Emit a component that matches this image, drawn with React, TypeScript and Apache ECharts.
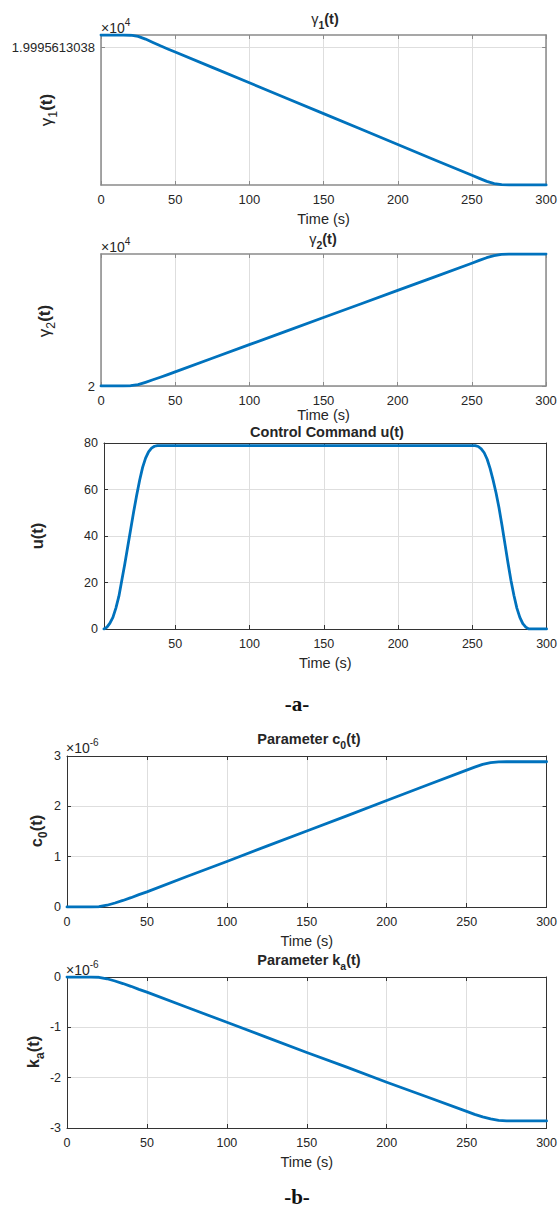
import React, { useEffect, useRef } from "react";
import * as echarts from "echarts";

// Shared time base (s) for the slow states and parameters
const time = [0, 5, 10, 15, 20, 25, 30, 35, 40, 45, 50, 75, 100, 125, 150, 175, 200, 225, 250, 255, 260, 265, 270, 275, 280, 300];

// gamma_1: offset from 1.9995613038 (x10^4), relative units
const gamma1Offset = [1, 1, 1, 1, 0.98, 0.88, 0.66, 0.38, 0.1, -0.16, -0.42, -1.7, -2.98, -4.27, -5.55, -6.84, -8.12, -9.41, -10.69, -10.95, -11.2, -11.38, -11.47, -11.5, -11.5, -11.5];
// gamma_2: offset above 2 (x10^4), relative units
const gamma2Offset = [0, 0, 0, 0, 0.02, 0.1, 0.28, 0.47, 0.66, 0.86, 1.07, 2.1, 3.13, 4.16, 5.19, 6.21, 7.24, 8.27, 9.3, 9.52, 9.72, 9.88, 9.97, 10, 10, 10];
// parameters (x10^-6)
const c0Values = [0, 0, 0, 0, 0.005, 0.035, 0.08, 0.13, 0.185, 0.245, 0.3, 0.605, 0.905, 1.21, 1.51, 1.81, 2.115, 2.42, 2.72, 2.78, 2.835, 2.868, 2.882, 2.886, 2.886, 2.886];
const kaValues = [0, 0, 0, 0, -0.005, -0.035, -0.08, -0.13, -0.185, -0.245, -0.3, -0.6, -0.9, -1.2, -1.5, -1.79, -2.09, -2.38, -2.67, -2.73, -2.78, -2.82, -2.85, -2.86, -2.86, -2.86];

// Control command
const uTime = [2, 4, 6, 8, 10, 12, 14, 16, 18, 20, 22, 24, 26, 28, 30, 32, 34, 36, 38, 40,
  250, 252, 254, 256, 258, 260, 262, 264, 266, 268, 270, 272, 274, 276, 278, 280, 282, 284, 286, 288, 290, 300];
const uValues = [0, 0.8, 2.5, 5, 9, 14, 21, 28, 35.5, 43, 50.5, 57.5, 64, 69.5, 73.5, 76.2, 77.8, 78.6, 78.9, 78.9,
  78.9, 78.9, 78.5, 77.5, 75.8, 73, 69, 64, 58.5, 52, 44.5, 36.5, 28.5, 21, 14.5, 9, 5, 2.3, 0.8, 0, 0, 0];

const timeTicks = [0, 50, 100, 150, 200, 250, 300];
const uTimeTicks = [50, 100, 150, 200, 250, 300];

const SANS = "'Liberation Sans', Arial, Helvetica, sans-serif";
const SERIF = "'Liberation Serif', 'Times New Roman', serif";
const INK = "#262626";
const LINE = "#0072BD";
const GRID = "#dedede";

type Panel = {
  grid: { left: number; top: number; width: number; height: number };
  t: number[];
  v: number[];
  xMin: number;
  xTicks: number[];
  yMin: number;
  yMax: number;
  yTicks?: number[];
  yInterval?: number;
  yFormat?: (v: number) => string;
  axisColor: string;
  axisWidth: number;
  tickFont: number;
  nameGap: number;
};

const panels: Panel[] = [
  {
    grid: { left: 101, top: 35, width: 447, height: 150 },
    t: time, v: gamma1Offset, xMin: 0, xTicks: timeTicks,
    yMin: -11.5, yMax: 1, yTicks: [0], yFormat: (v) => (v === 0 ? "1.9995613038" : ""),
    axisColor: "#8a8a8a", axisWidth: 1.5, tickFont: 13, nameGap: 26,
  },
  {
    grid: { left: 101, top: 254, width: 445, height: 132 },
    t: time, v: gamma2Offset, xMin: 0, xTicks: timeTicks,
    yMin: 0, yMax: 10, yTicks: [0], yFormat: (v) => (v === 0 ? "2" : ""),
    axisColor: "#8a8a8a", axisWidth: 1.5, tickFont: 13, nameGap: 21,
  },
  {
    grid: { left: 104, top: 443, width: 446, height: 186 },
    t: uTime, v: uValues, xMin: 2, xTicks: uTimeTicks,
    yMin: 0, yMax: 80, yInterval: 20,
    axisColor: "#333333", axisWidth: 1, tickFont: 12.5, nameGap: 26,
  },
  {
    grid: { left: 67, top: 756, width: 484, height: 151 },
    t: time, v: c0Values, xMin: 0, xTicks: timeTicks,
    yMin: 0, yMax: 3, yInterval: 1,
    axisColor: "#333333", axisWidth: 1, tickFont: 12.5, nameGap: 26,
  },
  {
    grid: { left: 67, top: 977, width: 484, height: 151 },
    t: time, v: kaValues, xMin: 0, xTicks: timeTicks,
    yMin: -3, yMax: 0, yInterval: 1,
    axisColor: "#333333", axisWidth: 1, tickFont: 12.5, nameGap: 26,
  },
];

function richStyles(size: number) {
  return {
    n: { fontSize: size, fontWeight: "normal", fontFamily: SANS, fill: INK },
    b: { fontSize: size, fontWeight: "bold", fontFamily: SANS, fill: INK },
    s: { fontSize: size * 0.72, fontWeight: "bold", fontFamily: SANS, fill: INK, padding: [size * 0.85, 0, 0, 0] },
    sn: { fontSize: size * 0.72, fontWeight: "normal", fontFamily: SANS, fill: INK, padding: [size * 0.85, 0, 0, 0] },
    sup: { fontSize: size * 0.72, fontWeight: "normal", fontFamily: SANS, fill: INK, padding: [0, 0, size * 0.75, 0] },
  };
}

function label(text: string, x: number, y: number, size: number, opts: any = {}) {
  return {
    type: "text",
    x,
    y,
    rotation: opts.rotation || 0,
    silent: true,
    style: {
      text,
      align: opts.align || "center",
      verticalAlign: "middle",
      fontSize: size,
      fontFamily: SANS,
      fill: INK,
      rich: richStyles(size),
    },
  };
}

function buildOption() {
  const grid: any[] = [];
  const xAxis: any[] = [];
  const yAxis: any[] = [];
  const series: any[] = [];

  panels.forEach((p, i) => {
    grid.push({ ...p.grid, containLabel: false });
    const line = { show: true, onZero: false, lineStyle: { color: p.axisColor, width: p.axisWidth } };
    const tick = { show: true, inside: true, length: 4, lineStyle: { color: p.axisColor, width: 1 } };
    const xCommon = { type: "value", gridIndex: i, min: p.xMin, max: 300 };
    xAxis.push({
      ...xCommon,
      position: "bottom",
      axisLine: line,
      axisTick: { ...tick, customValues: p.xTicks },
      axisLabel: { show: true, margin: 8, color: INK, fontSize: p.tickFont, fontFamily: SANS, customValues: p.xTicks },
      splitLine: { show: true, lineStyle: { color: GRID, width: 1 } },
      name: "Time (s)",
      nameLocation: "middle",
      nameGap: p.nameGap,
      nameTextStyle: { color: INK, fontSize: 14.5, fontFamily: SANS },
    });
    xAxis.push({
      ...xCommon,
      position: "top",
      axisLine: line,
      axisTick: { ...tick, customValues: p.xTicks },
      axisLabel: { show: false },
      splitLine: { show: false },
    });
    const yCommon: any = { type: "value", gridIndex: i, min: p.yMin, max: p.yMax };
    if (p.yInterval) yCommon.interval = p.yInterval;
    const yTick: any = { ...tick };
    const yLab: any = { show: true, margin: 6, color: INK, fontSize: p.tickFont, fontFamily: SANS };
    if (p.yTicks) {
      yTick.customValues = p.yTicks;
      yLab.customValues = p.yTicks;
    }
    if (p.yFormat) yLab.formatter = p.yFormat;
    yAxis.push({
      ...yCommon,
      position: "left",
      axisLine: line,
      axisTick: yTick,
      axisLabel: yLab,
      splitLine: { show: true, lineStyle: { color: GRID, width: 1 } },
    });
    yAxis.push({
      ...yCommon,
      position: "right",
      axisLine: line,
      axisTick: yTick,
      axisLabel: { show: false },
      splitLine: { show: false },
    });
    series.push({
      type: "line",
      xAxisIndex: 2 * i,
      yAxisIndex: 2 * i,
      data: p.t.map((t, k) => [t, p.v[k]]),
      symbol: "none",
      showSymbol: false,
      smooth: false,
      lineStyle: { color: LINE, width: 2.8, join: "round", cap: "round" },
      z: 3,
    });
  });

  const graphic: any[] = [
    // titles
    label("{n|γ}{s|1}{b|(t)}", 325, 19, 14.5),
    label("{n|γ}{s|2}{b|(t)}", 323, 239, 14.5),
    label("{b|Control Command u(t)}", 327, 432, 14.5),
    label("{b|Parameter c}{s|0}{b|(t)}", 309, 739, 14.5),
    label("{b|Parameter k}{s|a}{b|(t)}", 309, 960, 14.5),
    // exponent markers
    label("{n|×10}{sup|4}", 101, 28, 14, { align: "left" }),
    label("{n|×10}{sup|4}", 101, 247, 14, { align: "left" }),
    label("{n|×10}{sup|-6}", 66, 748, 14, { align: "left" }),
    label("{n|×10}{sup|-6}", 66, 970, 14, { align: "left" }),
    // y axis titles
    label("{n|γ}{sn|1}{b|(t)}", 46, 110, 17, { rotation: Math.PI / 2 }),
    label("{n|γ}{sn|2}{b|(t)}", 44, 321, 17, { rotation: Math.PI / 2 }),
    label("{b|u(t)}", 37, 536, 16.5, { rotation: Math.PI / 2 }),
    label("{b|c}{s|0}{b|(t)}", 36, 831, 16.5, { rotation: Math.PI / 2 }),
    label("{b|k}{s|a}{b|(t)}", 33, 1052, 16.5, { rotation: Math.PI / 2 }),
    // sub-figure captions
    {
      type: "text", x: 297, y: 704, silent: true,
      style: { text: "-a-", align: "center", verticalAlign: "middle", fontSize: 21, fontWeight: "bold", fontFamily: SERIF, fill: "#111" },
    },
    {
      type: "text", x: 297, y: 1197, silent: true,
      style: { text: "-b-", align: "center", verticalAlign: "middle", fontSize: 21, fontWeight: "bold", fontFamily: SERIF, fill: "#111" },
    },
  ];

  return {
    animation: false,
    backgroundColor: "#ffffff",
    grid,
    xAxis,
    yAxis,
    series,
    graphic,
  };
}

export default function App() {
  const ref = useRef<HTMLDivElement>(null);
  useEffect(() => {
    if (!ref.current) return;
    const chart = echarts.init(ref.current, null, { renderer: "svg" });
    chart.setOption(buildOption() as any);
    return () => chart.dispose();
  }, []);
  return (
    <div
      ref={ref}
      style={{ position: "absolute", left: 0, top: 0, width: 560, height: 1210, background: "#ffffff" }}
    />
  );
}
